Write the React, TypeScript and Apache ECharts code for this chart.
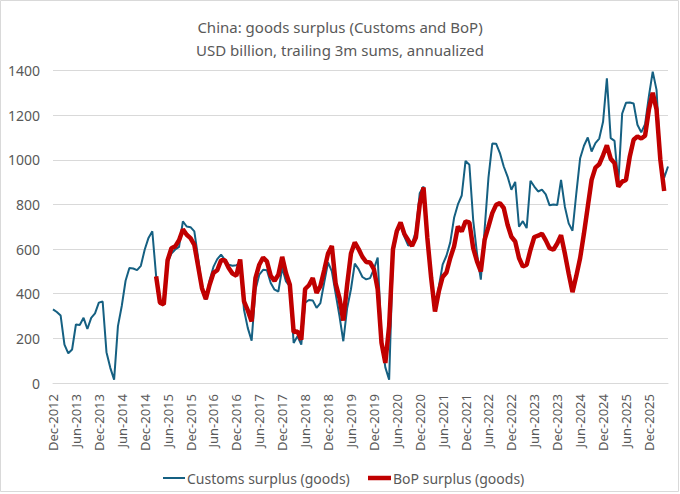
import React, { useEffect, useRef } from "react";
import * as echarts from "echarts";

const MONTH_NAMES = ["Jan", "Feb", "Mar", "Apr", "May", "Jun", "Jul", "Aug", "Sep", "Oct", "Nov", "Dec"];
const START_YEAR = 2012;
const START_MONTH = 11; // December
const N_MONTHS = 162;

const categories: string[] = [];
for (let k = 0; k < N_MONTHS; k++) {
  const m = (START_MONTH + k) % 12;
  const y = START_YEAR + Math.floor((START_MONTH + k) / 12);
  categories.push(`${MONTH_NAMES[m]}-${y}`);
}

const customs: (number | null)[] = [
  330, 318, 302, 172, 133, 150, 262, 260, 292, 242, 292, 312,
  360, 365, 138, 68, 15, 255, 345, 458, 515, 513, 506, 525,
  597, 650, 680, 478, 356, 350, 540, 580, 598, 610, 724, 701,
  698, 679, 560, 425, 373, 460, 520, 555, 575, 552, 530, 525,
  528, 537, 328, 246, 190, 418, 485, 507, 505, 448, 418, 410,
  515, 455, 433, 179, 209, 172, 360, 372, 370, 337, 358, 450,
  540, 500, 400, 300, 187, 335, 420, 535, 510, 475, 464, 470,
  510, 562, 200, 70, 15, 580, 670, 705, 655, 615, 625, 680,
  850, 880, 640, 460, 330, 430, 530, 570, 630, 740, 800, 840,
  995, 978, 730, 580, 463, 690, 920, 1073, 1072, 1030, 970, 925,
  866, 901, 700, 725, 694, 906, 880, 858, 866, 845, 796, 800,
  797, 910, 790, 715, 682, 850, 1007, 1063, 1100, 1037, 1075, 1095,
  1170, 1365, 1097, 1085, 895, 1207, 1255, 1257, 1252, 1157, 1123, 1160,
  1285, 1395, 1313, 1000, 920, 970,
];

const bop: (number | null)[] = [
  null, null, null, null, null, null, null, null, null, null, null, null,
  null, null, null, null, null, null, null, null, null, null, null, null,
  null, null, null, 478, 360, 352, 550, 604, 612, 640, 688, 664,
  649, 619, 522, 425, 376, 440, 493, 505, 550, 550, 515, 490,
  481, 553, 366, 325, 276, 470, 530, 562, 545, 480, 458, 485,
  565, 492, 440, 228, 231, 194, 421, 438, 470, 404, 434, 505,
  580, 614, 445, 380, 280, 440, 580, 630, 600, 565, 542, 540,
  510, 420, 180, 90, 255, 599, 680, 719, 667, 640, 614, 652,
  800, 876, 650, 470, 320, 410, 475, 495, 560, 612, 701, 679,
  724, 719, 604, 545, 500, 642, 701, 761, 798, 806, 784, 709,
  655, 634, 560, 522, 530, 597, 654, 660, 669, 639, 604, 597,
  625, 662, 580, 490, 407, 480, 560, 670, 790, 910, 965, 980,
  1020, 1065, 1005, 985, 880, 902, 910, 1015, 1090, 1105, 1095, 1108,
  1225, 1300, 1225, 1000, 860, null,
];

const TITLE = "China: goods surplus (Customs and BoP)\nUSD billion, trailing 3m sums, annualized";
const SERIES_NAMES = ["Customs surplus (goods)", "BoP surplus (goods)"];

const FONT = "'Noto Sans', sans-serif";
const TEXT_COLOR = "#595959";
const CUSTOMS_COLOR = "#156082";
const BOP_COLOR = "#c00000";

export default function App() {
  const ref = useRef<HTMLDivElement>(null);
  useEffect(() => {
    if (!ref.current) return;
    const chart = echarts.init(ref.current, undefined, { renderer: "svg" });
    const legendText = { fontFamily: FONT, fontSize: 14, color: TEXT_COLOR, padding: [0, 0, 0, -3] };
    chart.setOption({
      animation: false,
      backgroundColor: "#ffffff",
      textStyle: { fontFamily: FONT },
      title: {
        text: TITLE,
        left: "center",
        top: 10,
        textStyle: {
          fontFamily: FONT,
          fontSize: 15,
          fontWeight: "normal",
          color: TEXT_COLOR,
          lineHeight: 23,
        },
      },
      graphic: [
        {
          type: "rect",
          shape: { x: 0.5, y: 0.5, width: 678, height: 491 },
          style: { fill: "none", stroke: "#d9d9d9", lineWidth: 1 },
          silent: true,
        },
      ],
      grid: { left: 53, right: 12, top: 70.5, bottom: 111, containLabel: false },
      legend: [
        {
          top: 466,
          left: 158,
          icon: "rect",
          itemWidth: 22,
          itemHeight: 2,
          itemGap: 0,
          textStyle: legendText,
          data: [SERIES_NAMES[0]],
        },
        {
          top: 466,
          left: 363,
          icon: "rect",
          itemWidth: 23,
          itemHeight: 4.5,
          itemGap: 0,
          textStyle: legendText,
          data: [SERIES_NAMES[1]],
        },
      ],
      xAxis: {
        type: "category",
        data: categories,
        boundaryGap: false,
        axisLine: { show: true, lineStyle: { color: "#d9d9d9", width: 1 } },
        axisTick: { show: false },
        axisLabel: {
          interval: 5,
          rotate: 90,
          margin: 11,
          fontFamily: FONT,
          fontSize: 13,
          color: TEXT_COLOR,
        },
        splitLine: { show: false },
      },
      yAxis: {
        type: "value",
        min: 0,
        max: 1400,
        interval: 200,
        axisLine: { show: false },
        axisTick: { show: false },
        axisLabel: {
          fontFamily: FONT,
          fontSize: 14,
          color: TEXT_COLOR,
          margin: 13,
          formatter: (v: number) => String(v),
        },
        splitLine: { lineStyle: { color: "#d9d9d9", width: 1 } },
      },
      series: [
        {
          name: SERIES_NAMES[0],
          type: "line",
          data: customs,
          symbol: "none",
          showSymbol: false,
          connectNulls: false,
          lineStyle: { color: CUSTOMS_COLOR, width: 2 },
          itemStyle: { color: CUSTOMS_COLOR },
          z: 2,
        },
        {
          name: SERIES_NAMES[1],
          type: "line",
          data: bop,
          symbol: "none",
          showSymbol: false,
          connectNulls: false,
          lineStyle: { color: BOP_COLOR, width: 4.5 },
          itemStyle: { color: BOP_COLOR },
          z: 3,
        },
      ],
    });
    return () => chart.dispose();
  }, []);
  return (
    <div
      ref={ref}
      style={{ position: "fixed", left: 0, top: 0, width: 680, height: 494, background: "#fff" }}
    />
  );
}
